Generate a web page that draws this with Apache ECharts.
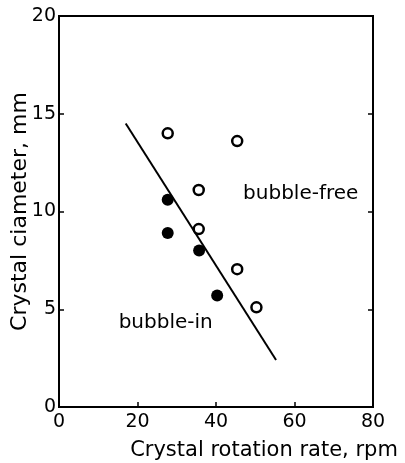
<!DOCTYPE html>
<html><head><meta charset="utf-8">
<script src="https://cdn.jsdelivr.net/npm/echarts@6/dist/echarts.min.js"></script>
<style>html,body{margin:0;padding:0;background:#fff}#c{width:405px;height:463px}</style>
</head><body><div id="c"></div>
<script>
// Data
const bubbleFree = [[27.7,14.0],[45.4,13.6],[35.6,11.1],[35.6,9.1],[45.4,7.05],[50.3,5.1]];
const bubbleIn = [[27.7,10.6],[27.7,8.9],[35.7,8.0],[40.3,5.7]];
const boundary = [[17.0,14.5],[55.3,2.4]];
const regionLabels = [{name:'bubble-free', value:[46.9,10.9]},{name:'bubble-in', value:[15.2,4.3]}];
const xTicks = {min:0, max:80, interval:20};
const yTicks = {min:0, max:20, interval:5};

const FONT = 'DejaVu Sans';
const chart = echarts.init(document.getElementById('c'));
chart.setOption({
  animation:false,
  backgroundColor:'#fff',
  grid:{left:59, right:32, top:16, bottom:56, containLabel:false, outerBoundsMode:'none',
        show:true, borderColor:'#000', borderWidth:2, backgroundColor:'transparent'},
  xAxis:{type:'value', min:xTicks.min, max:xTicks.max, interval:xTicks.interval,
    name:'Crystal rotation rate, rpm', nameLocation:'middle', nameGap:33, nameMoveOverlap:false,
    nameTextStyle:{fontFamily:FONT, fontSize:21, color:'#000', padding:[0,0,0,96]},
    axisLine:{show:true, lineStyle:{color:'#000', width:2}},
    axisTick:{show:true, inside:true, length:5, lineStyle:{color:'#000', width:1.5}},
    axisLabel:{fontFamily:FONT, fontSize:19, color:'#000', margin:6},
    splitLine:{show:false}},
  yAxis:[{type:'value', min:yTicks.min, max:yTicks.max, interval:yTicks.interval,
    name:'Crystal ciameter, mm', nameLocation:'middle', nameGap:28, nameMoveOverlap:false,
    nameTextStyle:{fontFamily:FONT, fontSize:22, color:'#000'},
    axisLine:{show:true, lineStyle:{color:'#000', width:2}},
    axisTick:{show:true, inside:true, length:5, lineStyle:{color:'#000', width:1.5}},
    axisLabel:{fontFamily:FONT, fontSize:19, color:'#000', margin:3},
    splitLine:{show:false}},
   {type:'value', position:'right', min:yTicks.min, max:yTicks.max, interval:yTicks.interval,
    axisLine:{show:true, lineStyle:{color:'#000', width:2}},
    axisTick:{show:true, inside:true, length:5, lineStyle:{color:'#000', width:1.5}},
    axisLabel:{show:false}, splitLine:{show:false}}],
  series:[
    {type:'line', data:boundary, symbol:'none', lineStyle:{color:'#000', width:2}, z:2},
    {type:'scatter', data:bubbleFree, symbol:'circle', symbolSize:10,
     itemStyle:{color:'#fff', borderColor:'#000', borderWidth:2.5, opacity:1}, z:3},
    {type:'scatter', data:bubbleIn, symbol:'circle', symbolSize:12,
     itemStyle:{color:'#000', borderColor:'#000', borderWidth:0, opacity:1}, z:3},
    {type:'scatter', data:regionLabels, symbolSize:0, itemStyle:{opacity:1},
     label:{show:true, position:'right', distance:0, formatter:'{b}', fontFamily:FONT, fontSize:20, color:'#000', opacity:1}}
  ]
});
</script></body></html>
